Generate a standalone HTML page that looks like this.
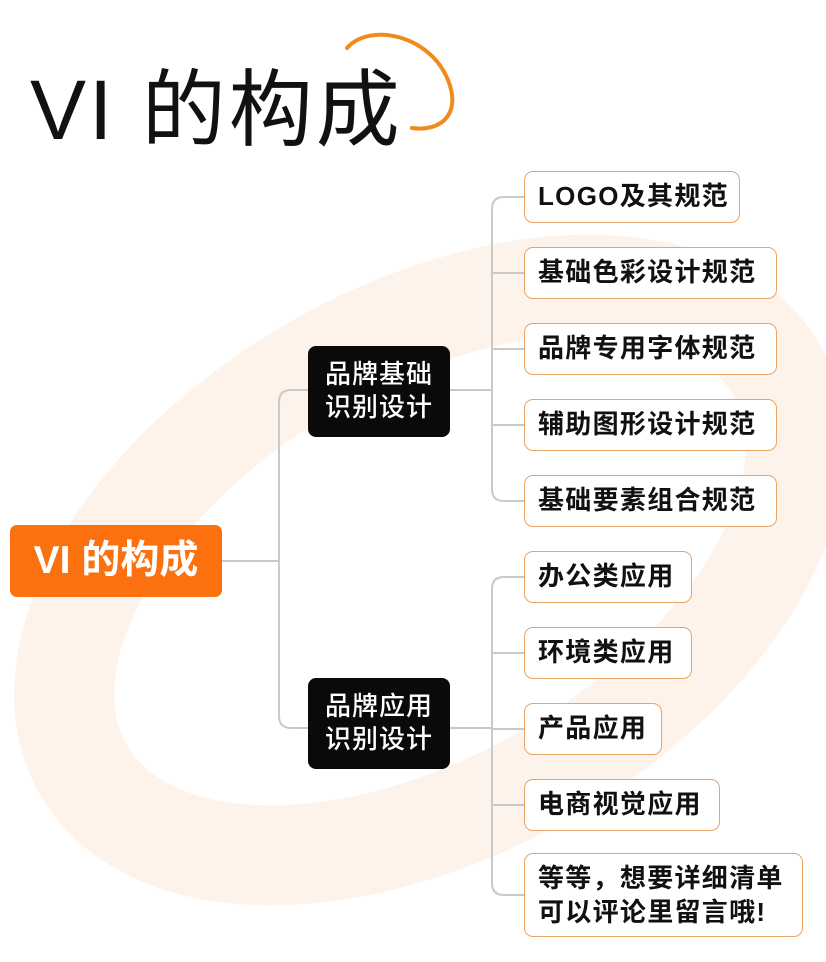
<!DOCTYPE html>
<html><head><meta charset="utf-8"><style>
*{margin:0;padding:0;box-sizing:border-box}
body{width:826px;height:962px;background:#fff;position:relative;overflow:hidden;font-family:"Liberation Sans","Noto Sans CJK SC",sans-serif}
.t{position:absolute;left:30px;top:60px;font-size:84px;line-height:100px;color:#111;font-weight:400;letter-spacing:3px}
.root{position:absolute;left:10px;top:525px;width:212px;height:72px;background:#fb700f;border-radius:7px;color:#fff;font-size:39px;font-weight:700;line-height:72px;text-align:center}
.mid{position:absolute;left:308px;width:142px;height:91px;background:#0a0a0a;border-radius:8px;color:#fff;font-size:26px;font-weight:500;line-height:33px;padding-top:12px;text-align:center;letter-spacing:1px}
.leaf{position:absolute;left:524px;height:52px;border:1.6px solid #e9a466;border-radius:9px;background:#fff;color:#111;font-size:26px;font-weight:700;line-height:49px;padding-left:13px;letter-spacing:1.3px;white-space:nowrap}
</style></head><body>
<svg width="826" height="962" style="position:absolute;left:0;top:0">
<ellipse cx="430" cy="570" rx="400" ry="235" transform="rotate(-30 430 570)" fill="none" stroke="#fdf3ea" stroke-width="100"/>
<path d="M347 48 C370 22 430 35 448 80 C462 115 440 132 412 128" fill="none" stroke="#f08a1c" stroke-width="4" stroke-linecap="round"/>
<g fill="none" stroke="#c9c9c9" stroke-width="2">
<path d="M222 561 H279"/>
<path d="M308 390 H291 Q279 390 279 402 V716 Q279 728 291 728 H308"/>
<path d="M450 390 H492"/>
<path d="M524 197 H504 Q492 197 492 209 V489 Q492 501 504 501 H524"/>
<path d="M492 273 H524 M492 349 H524 M492 425 H524"/>
<path d="M450 728 H492"/>
<path d="M524 577 H504 Q492 577 492 589 V883 Q492 895 504 895 H524"/>
<path d="M492 653 H524 M492 729 H524 M492 805 H524"/>
</g>
</svg>
<div class="t">VI 的构成</div>
<div class="root">VI 的构成</div>
<div class="mid" style="top:346px">品牌基础<br>识别设计</div>
<div class="mid" style="top:678px">品牌应用<br>识别设计</div>
<div class="leaf" style="top:171px;width:216px">LOGO及其规范</div>
<div class="leaf" style="top:247px;width:253px">基础色彩设计规范</div>
<div class="leaf" style="top:323px;width:253px">品牌专用字体规范</div>
<div class="leaf" style="top:399px;width:253px">辅助图形设计规范</div>
<div class="leaf" style="top:475px;width:253px">基础要素组合规范</div>
<div class="leaf" style="top:551px;width:168px">办公类应用</div>
<div class="leaf" style="top:627px;width:168px">环境类应用</div>
<div class="leaf" style="top:703px;width:138px">产品应用</div>
<div class="leaf" style="top:779px;width:196px">电商视觉应用</div>
<div class="leaf" style="top:853px;width:279px;height:84px;line-height:34px;padding-top:7px">等等，想要详细清单<br>可以评论里留言哦!</div>
</body></html>
